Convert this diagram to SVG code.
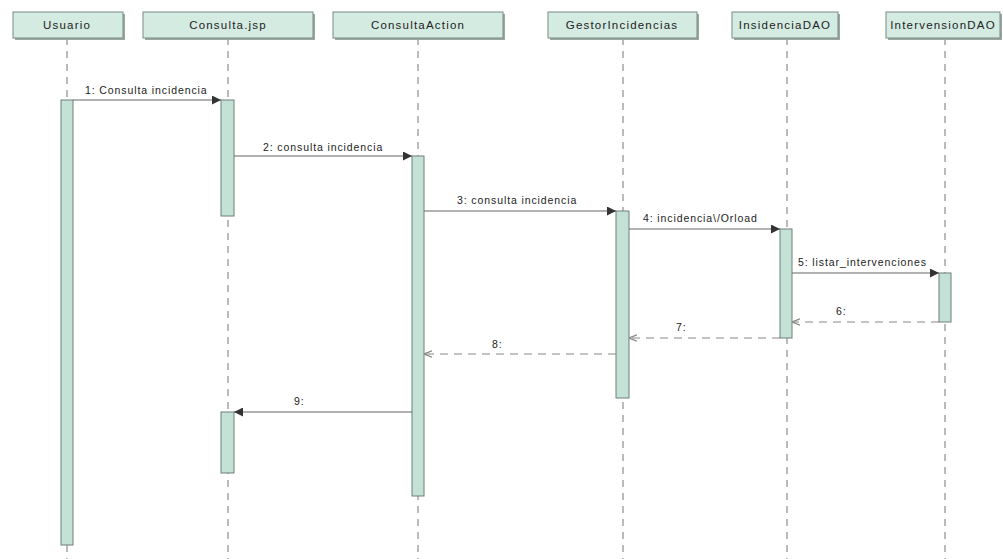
<svg xmlns="http://www.w3.org/2000/svg" width="1003" height="559" viewBox="0 0 1003 559">
<style>
  .hdr{fill:#d4ebe2;stroke:#7a8a84;stroke-width:1}
  .shd{fill:#9aa8a2}
  .life{stroke:#777;stroke-width:1;stroke-dasharray:7,6;fill:none}
  .act{fill:#c3e2d5;stroke:#6f7f79;stroke-width:1}
  .msg{stroke:#666;stroke-width:1.2;fill:none}
  .ret{stroke:#888;stroke-width:1.2;stroke-dasharray:8,6;fill:none}
  text{font-family:"Liberation Sans",Arial,sans-serif;font-size:10.5px;letter-spacing:0.9px;fill:#222}
  .t{text-anchor:middle;font-size:11.5px;letter-spacing:1.2px}
</style>
<defs>
  <marker id="solid" viewBox="0 0 10 10" refX="10" refY="5" markerWidth="9" markerHeight="9" markerUnits="userSpaceOnUse" orient="auto">
    <path d="M0,0 L10,5 L0,10 z" fill="#333"/>
  </marker>
  <marker id="open" viewBox="0 0 10 10" refX="10" refY="5" markerWidth="8" markerHeight="8" markerUnits="userSpaceOnUse" orient="auto">
    <path d="M0,1 L10,5 L0,9" fill="none" stroke="#888" stroke-width="1.5"/>
  </marker>
</defs>
<rect width="1003" height="559" fill="#fff"/>

<g id="usuario">
  <line class="life" x1="67" y1="38" x2="67" y2="559"/>
  <rect class="shd" x="15" y="14" width="110" height="26"/>
  <rect class="hdr" x="13" y="12" width="110" height="26"/>
  <text class="t" x="67" y="29">Usuario</text>
  <rect class="act" x="61" y="100" width="12" height="445"/>
</g>

<g id="consulta-jsp">
  <line class="life" x1="228" y1="38" x2="228" y2="559"/>
  <rect class="shd" x="145" y="14" width="170" height="26"/>
  <rect class="hdr" x="143" y="12" width="170" height="26"/>
  <text class="t" x="228" y="29">Consulta.jsp</text>
  <rect class="act" x="221" y="100" width="13" height="116"/>
  <rect class="act" x="221" y="412" width="13" height="61"/>
</g>

<g id="consulta-action">
  <line class="life" x1="418" y1="38" x2="418" y2="559"/>
  <rect class="shd" x="335" y="14" width="170" height="26"/>
  <rect class="hdr" x="333" y="12" width="170" height="26"/>
  <text class="t" x="418" y="29">ConsultaAction</text>
  <rect class="act" x="412" y="156" width="12" height="340"/>
</g>

<g id="gestor-incidencias">
  <line class="life" x1="623" y1="38" x2="623" y2="559"/>
  <rect class="shd" x="550" y="14" width="149" height="26"/>
  <rect class="hdr" x="548" y="12" width="149" height="26"/>
  <text class="t" x="622" y="29">GestorIncidencias</text>
  <rect class="act" x="616" y="211" width="13" height="187"/>
</g>

<g id="insidencia-dao">
  <line class="life" x1="787" y1="38" x2="787" y2="559"/>
  <rect class="shd" x="734" y="14" width="106" height="26"/>
  <rect class="hdr" x="732" y="12" width="106" height="26"/>
  <text class="t" x="785" y="29">InsidenciaDAO</text>
  <rect class="act" x="780" y="229" width="12" height="109"/>
</g>

<g id="intervension-dao">
  <line class="life" x1="945" y1="38" x2="945" y2="559"/>
  <rect class="shd" x="888" y="14" width="114" height="26"/>
  <rect class="hdr" x="886" y="12" width="114" height="26"/>
  <text class="t" x="943" y="29">IntervensionDAO</text>
  <rect class="act" x="939" y="273" width="12" height="49"/>
</g>

<g id="connectors">
  <line class="msg" x1="73" y1="100" x2="221" y2="100" marker-end="url(#solid)"/>
  <text x="85" y="94">1: Consulta incidencia</text>

  <line class="msg" x1="234" y1="156" x2="412" y2="156" marker-end="url(#solid)"/>
  <text x="263" y="151">2: consulta incidencia</text>

  <line class="msg" x1="424" y1="211" x2="616" y2="211" marker-end="url(#solid)"/>
  <text x="457" y="204">3: consulta incidencia</text>

  <line class="msg" x1="629" y1="229" x2="780" y2="229" marker-end="url(#solid)"/>
  <text x="643" y="222">4: incidencia\/Orload</text>

  <line class="msg" x1="792" y1="273" x2="939" y2="273" marker-end="url(#solid)"/>
  <text x="798" y="266">5: listar_intervenciones</text>

  <line class="ret" x1="939" y1="322" x2="792" y2="322" marker-end="url(#open)"/>
  <text x="836" y="315">6:</text>

  <line class="ret" x1="780" y1="338" x2="629" y2="338" marker-end="url(#open)"/>
  <text x="676" y="331">7:</text>

  <line class="ret" x1="616" y1="354" x2="424" y2="354" marker-end="url(#open)"/>
  <text x="492" y="348">8:</text>

  <line class="msg" x1="412" y1="412" x2="234" y2="412" marker-end="url(#solid)"/>
  <text x="294" y="405">9:</text>
</g>
</svg>
